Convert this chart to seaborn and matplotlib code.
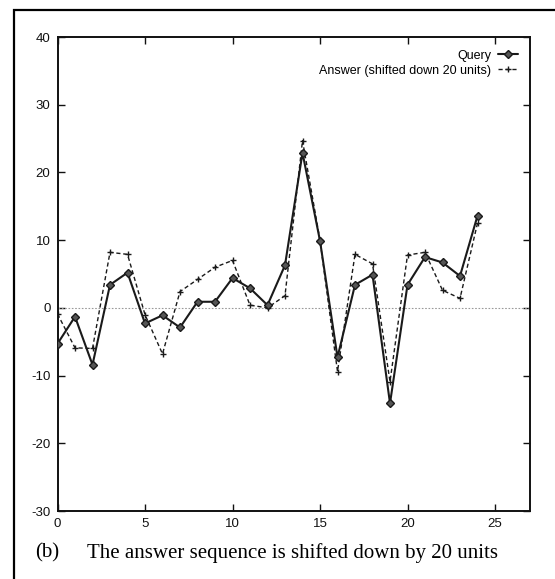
import matplotlib
matplotlib.use("Agg")
import matplotlib.pyplot as plt
import seaborn as sns
import pandas as pd
from matplotlib.lines import Line2D
from matplotlib.patches import Rectangle

# Sequence values
positions = list(range(25))
query = [-5.3, -1.3, -8.4, 3.4, 5.2, -2.3, -1.1, -2.9, 0.9, 0.9,
         4.4, 2.9, 0.4, 6.3, 22.9, 9.9, -7.3, 3.4, 4.9, -14.1,
         3.4, 7.5, 6.7, 4.7, 13.6]
answer = [-0.9, -5.9, -6.0, 8.2, 7.9, -1.0, -6.8, 2.4, 4.2, 6.0,
          7.0, 0.4, 0.0, 1.8, 24.7, 10.0, -9.4, 7.9, 6.5, -10.9,
          7.8, 8.2, 2.6, 1.4, 12.5]
series_names = ["Query", "Answer (shifted down 20 units)"]
x_ticks = [0, 5, 10, 15, 20, 25]
y_ticks = [-30, -20, -10, 0, 10, 20, 30, 40]
caption_tag = "(b)"
caption_text = "The answer sequence is shifted down by 20 units"

sns.set_style("ticks")
plt.rcParams["font.family"] = ["Liberation Sans", "DejaVu Sans"]
plt.rcParams["axes.unicode_minus"] = False

W, H = 555, 579
fig = plt.figure(figsize=(W / 100, H / 100), dpi=100)

# outer frame around the figure panel
fig.add_artist(Rectangle((14 / W, -0.01), 1.2, (H - 10) / H + 0.01,
                         transform=fig.transFigure, fill=False,
                         edgecolor="black", linewidth=1.6))

ax_l, ax_t, ax_r, ax_b = 57.5, 37, 530, 511
ax = fig.add_axes([ax_l / W, 1 - ax_b / H, (ax_r - ax_l) / W, (ax_b - ax_t) / H])

df = pd.DataFrame({"x": positions, "query": query, "answer": answer})

ax.axhline(0, color="#9a9a9a", linestyle=(0, (1.5, 1.5)), linewidth=0.8, zorder=1)

ink = "#1a1a1a"
sns.lineplot(data=df, x="x", y="query", ax=ax, color=ink,
             linewidth=1.5, marker="D", markersize=4.2,
             markeredgecolor=ink, markerfacecolor="#555555",
             markeredgewidth=1.0, zorder=3)
sns.lineplot(data=df, x="x", y="answer", ax=ax, color=ink,
             linewidth=1.0, linestyle=(0, (3, 2)), marker="+",
             markersize=5, markeredgewidth=1.0, markeredgecolor=ink,
             zorder=2)

ax.set_xlim(0, 27)
ax.set_ylim(-30, 40)
ax.set_xticks(x_ticks)
ax.set_yticks(y_ticks)
ax.set_xlabel("")
ax.set_ylabel("")
ax.tick_params(direction="in", length=5, width=1, top=True, right=True,
               labelsize=9.5, colors="#111111", pad=5)
for s in ax.spines.values():
    s.set_linewidth(1.4)
    s.set_color("#111111")

handles = [
    Line2D([], [], color=ink, linewidth=1.5, marker="D", markersize=4.2,
           markerfacecolor="#555555", markeredgecolor=ink),
    Line2D([], [], color=ink, linewidth=1.0, linestyle=(0, (3, 2)),
           marker="+", markersize=5, markeredgewidth=1.0, markeredgecolor=ink),
]
leg = ax.legend(handles, series_names, loc="upper right", frameon=False,
                markerfirst=False, fontsize=9, handlelength=1.6,
                handletextpad=0.5, labelspacing=0.25, borderaxespad=0.6)
for t in leg.get_texts():
    t.set_color("black")

fig.text(35 / W, 1 - 553 / H, caption_tag, family="Liberation Serif",
         fontsize=15, va="center", ha="left", color="black")
fig.text(87 / W, 1 - 553 / H, caption_text, family="Liberation Serif",
         fontsize=15, va="center", ha="left", color="black")

fig.savefig("out.png", dpi=100)
